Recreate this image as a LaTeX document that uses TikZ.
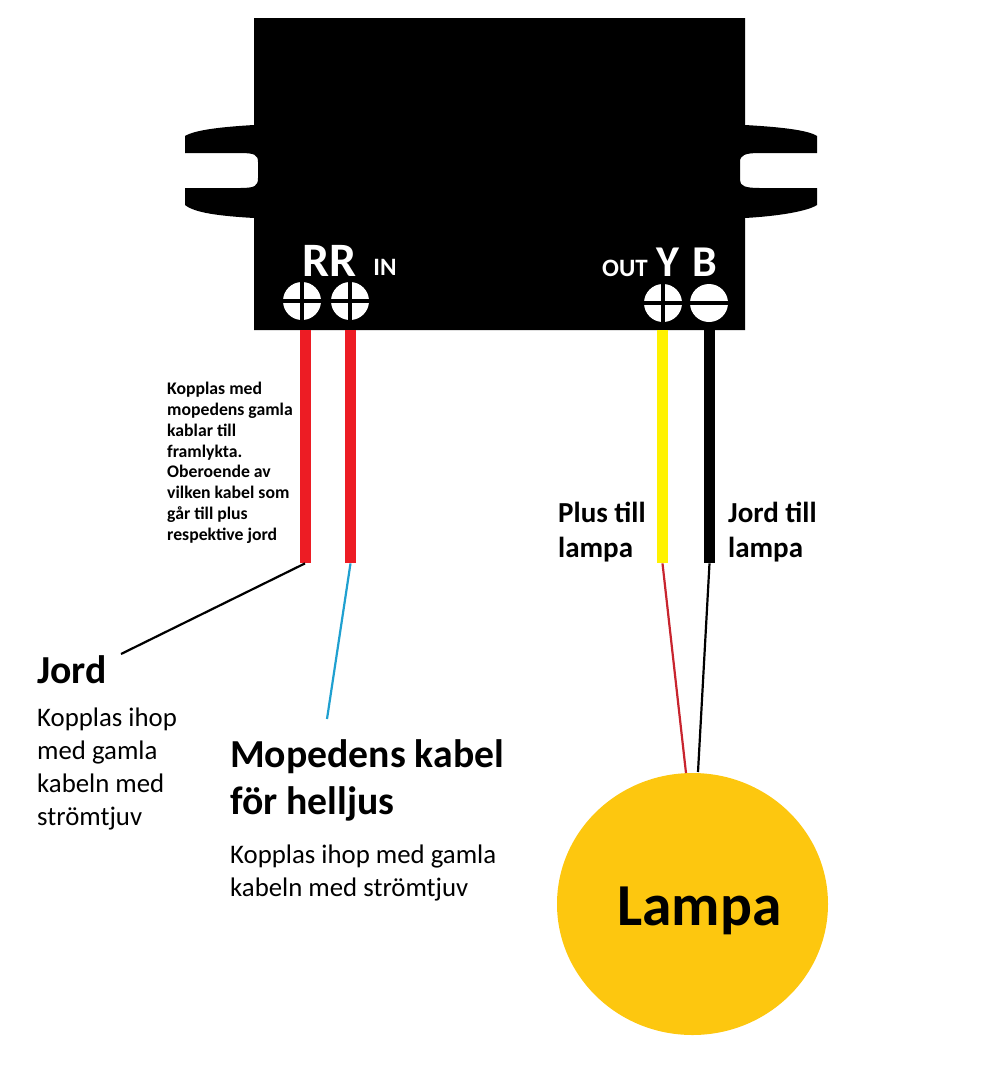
\documentclass[tikz,border=0pt]{standalone}
\usepackage{fontspec}
\usetikzlibrary{shapes.geometric}
\setmainfont{Carlito}
\definecolor{wirered}{HTML}{ED1C24}
\definecolor{wireyellow}{HTML}{FFF200}
\definecolor{lampfill}{HTML}{FDC70F}
\definecolor{thinred}{HTML}{C8242E}
\definecolor{thinblue}{HTML}{1FA0D0}
\begin{document}
\begin{tikzpicture}[x=1pt,y=-1pt,
  wirebox/.style={draw=none,minimum width=11pt,minimum height=233pt,inner sep=0pt,anchor=north},
  screw/.style={circle,fill=white,draw=none,minimum size=38pt,inner sep=0pt},
  bar/.style={black,line width=3.8pt},
  thinwire/.style={line width=2.2pt},
  big/.style={inner sep=0pt,anchor=base west,align=left,font=\fontsize{39.7}{47}\selectfont\bfseries,text=black},
  sub/.style={inner sep=0pt,anchor=base west,align=left,font=\fontsize{26.8}{33}\selectfont,text=black},
  plate/.style={inner sep=0pt,anchor=base,text=white,font=\bfseries},
  wirelabel/.style={inner sep=0pt,anchor=base west,align=left,font=\fontsize{29}{35}\selectfont\bfseries,text=black}]
\useasboundingbox (0,0) rectangle (998,1066);
% housing
\fill[black] (254,18) -- (745,18) -- (745,125)
  .. controls (780,127) and (808,130) .. (817,136) -- (817,153) -- (760,153)
  .. controls (745,153) and (740,155) .. (740,162) -- (740,180)
  .. controls (740,186) and (745,188) .. (760,188) -- (817,188) -- (817,205)
  .. controls (808,211) and (780,216) .. (745,218) -- (745,330) -- (254,330) -- (254,218)
  .. controls (220,216) and (195,213) .. (185,205) -- (185,188) -- (240,188)
  .. controls (255,188) and (258,186) .. (258,178) -- (258,162)
  .. controls (258,155) and (255,153) .. (240,153) -- (185,153) -- (185,136)
  .. controls (195,130) and (220,127) .. (254,125) -- cycle;
% screws
\node[screw] (s1) at (302,301) {};
\node[screw] (s2) at (350,301) {};
\node[screw] (s3) at (663,303) {};
\node[screw] (s4) at (709,303) {};
\draw[bar] (s1.west) -- (s1.east) (s1.north) -- (s1.south);
\draw[bar] (s2.west) -- (s2.east) (s2.north) -- (s2.south);
\draw[bar] (s3.west) -- (s3.east) (s3.north) -- (s3.south);
\draw[bar] (s4.west) -- (s4.east);
% plate labels
\node[plate,font=\fontsize{48}{48}\selectfont\bfseries] (rr) at (329.5,276) {RR};
\node[plate,font=\fontsize{25}{25}\selectfont\bfseries] (in) at (385,275) {IN};
\node[plate,font=\fontsize{25}{25}\selectfont\bfseries] (out) at (625,276) {OUT};
\node[plate,font=\fontsize{44}{44}\selectfont\bfseries] (y) at (668,276) {Y};
\node[plate,font=\fontsize{44}{44}\selectfont\bfseries] (b) at (704.5,276) {B};
% thick wires
\node[wirebox,fill=wirered] (w1) at (305,330) {};
\node[wirebox,fill=wirered] (w2) at (350.5,330) {};
\node[wirebox,fill=wireyellow] (w3) at (662.5,330) {};
\node[wirebox,fill=black] (w4) at (709.5,330) {};
% lamp
\node[ellipse,fill=lampfill,draw=none,minimum width=271pt,minimum height=262pt,inner sep=0pt] (lamp) at (692.5,904) {};
\node[inner sep=0pt,anchor=base,font=\fontsize{59.5}{60}\selectfont\bfseries] (lamptext) at (699.5,925) {Lampa};
% thin wires
\coordinate (jordend) at (121,654);
\coordinate (mopend) at (327,719);
\coordinate (lampred) at (686,773);
\coordinate (lampblack) at (698,772);
\draw[black,thinwire] (w1.south) -- (jordend);
\draw[thinblue,thinwire] (w2.south) -- (mopend);
\draw[thinred,thinwire] (w3.south) -- (lampred);
\draw[black,thinwire] (w4.south) -- (lampblack);
% notes
\node[inner sep=0pt,anchor=north west,align=left,font=\fontsize{17.7}{20.8}\selectfont\bfseries] (note) at (167,382) {Kopplas med\\mopedens gamla\\kablar till\\framlykta.\\Oberoende av\\vilken kabel som\\går till plus\\respektive jord};
\node[wirelabel] (plus) at (558,557) {Plus till\\lampa};
\node[wirelabel] (jordlampa) at (728,557) {Jord till\\lampa};
\node[big] (jord) at (37,683) {Jord};
\node[sub] (jordsub) at (37,825) {Kopplas ihop\\med gamla\\kabeln med\\strömtjuv};
\node[big] (mop) at (230,814) {Mopedens kabel\\för helljus};
\node[sub] (mopsub) at (230,896) {Kopplas ihop med gamla\\kabeln med strömtjuv};
\end{tikzpicture}
\end{document}
